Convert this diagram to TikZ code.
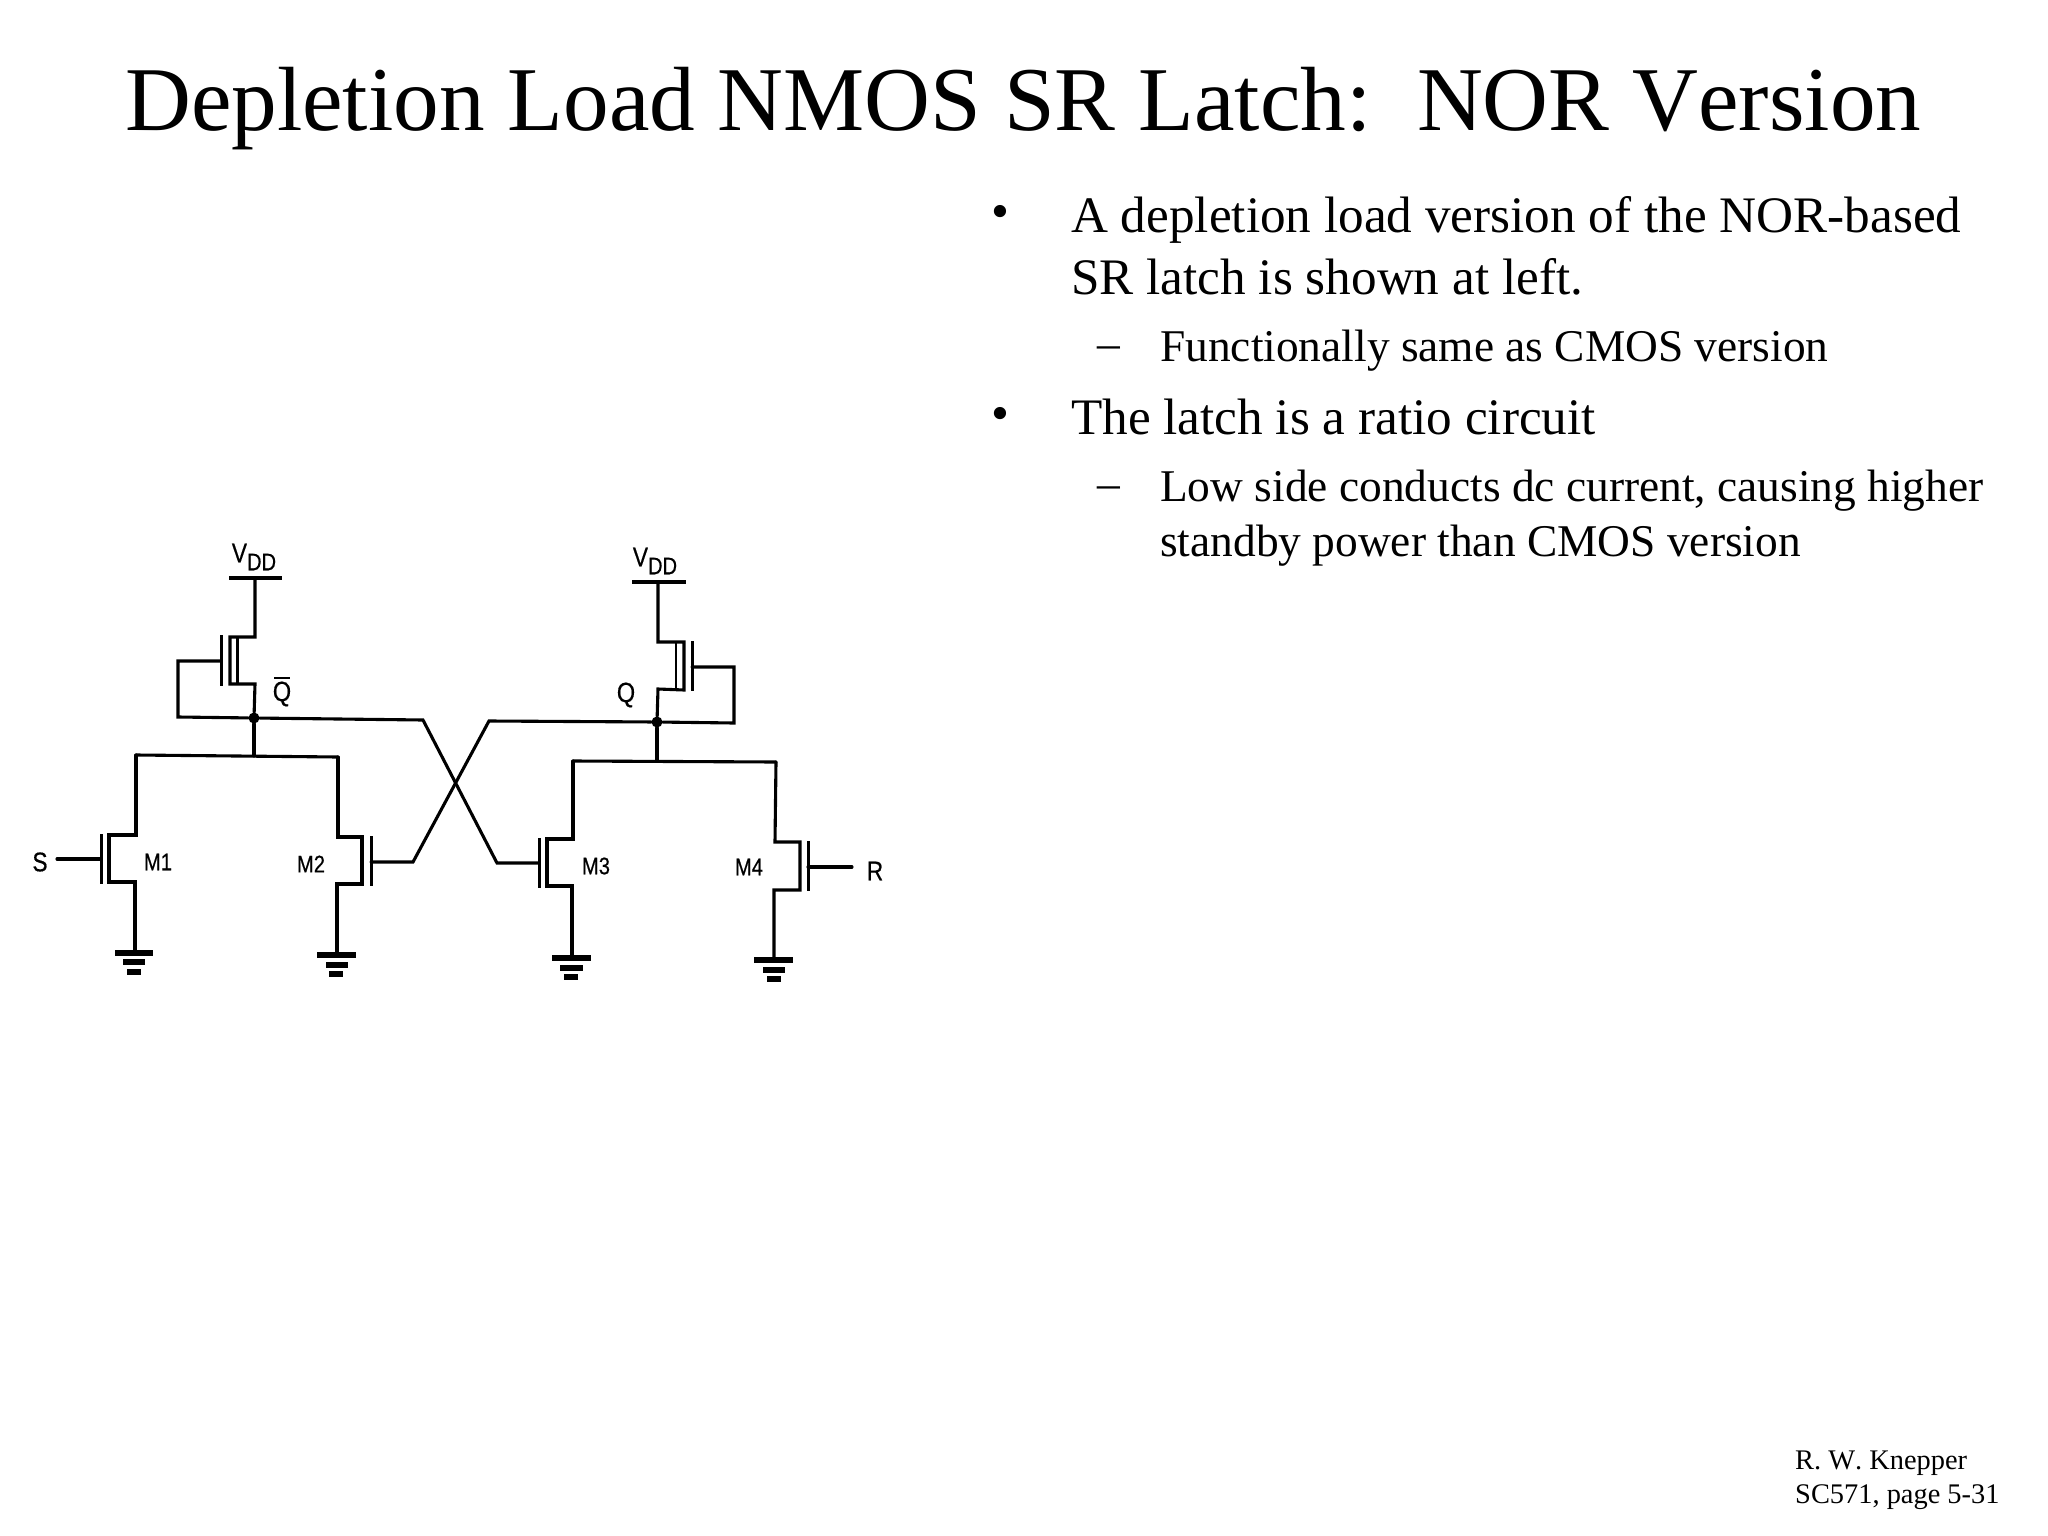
\documentclass[tikz,border=0pt]{standalone}
\usepackage{fontspec}
\usepackage{graphicx}
\setmainfont[Kerning=Off]{Liberation Serif}
\newfontfamily\schem[FakeBold=0.5]{Liberation Sans}
\newcommand{\fsz}[1]{\fontsize{#1}{#1}\selectfont}
\newcommand{\slab}[2]{{\schem\fsz{#1}\scalebox{.84}[1]{#2}}}
\tikzset{
  wire/.style={line width=3.1pt,line join=miter,line cap=round},
  chan/.style={line width=2.4pt},
  gatebar/.style={line width=3pt},
  rail/.style={line width=3.6pt},
  gnd/.style={line width=5.5pt},
  junct/.style={circle,fill=black,inner sep=0pt,minimum size=11pt},
  ttl/.style={anchor=base west,inner sep=0pt,font=\fsz{91.2}},
  lvone/.style={anchor=base west,inner sep=0pt,font=\fsz{51.2}},
  lvtwo/.style={anchor=base west,inner sep=0pt,font=\fsz{45.4}},
  foot/.style={anchor=base west,inner sep=0pt,font=\fsz{28.4}},
  lab/.style={inner sep=0pt}
}
\begin{document}
\begin{tikzpicture}[x=1pt,y=-1pt]
\useasboundingbox[fill=white] (0,0) rectangle (2048,1536);
% texts
\node[ttl] (title) at (125,131) {Depletion Load NMOS SR Latch:\ \ NOR Version};
\node[lvone] (b1) at (991,228) {•};
\node[lvone] (t1) at (1071,232) {A depletion load version of the NOR-based};
\node[lvone] (t1b) at (1071,294) {SR latch is shown at left.};
\node[lvtwo] (d1) at (1097,358) {–};
\node[lvtwo] (t2) at (1160,361) {Functionally same as CMOS version};
\node[lvone] (b2) at (991,430) {•};
\node[lvone] (t3) at (1071,434) {The latch is a ratio circuit};
\node[lvtwo] (d2) at (1097,498) {–};
\node[lvtwo] (t4) at (1160,501) {Low side conducts dc current, causing higher};
\node[lvtwo] (t4b) at (1160,556) {standby power than CMOS version};
\node[foot] (f1) at (1795,1469) {R. W. Knepper};
\node[foot] (f2) at (1795,1503) {SC571, page 5-31};
% junctions
\node[junct] (nqb) at (254,718) {};
\node[junct] (nq) at (657,722) {};
% left load
\coordinate (vl) at (255,578);
\coordinate (vla) at (229,578); \coordinate (vlb) at (282,578);
\draw[rail] (vla) -- (vlb);
\coordinate (ld) at (255,637); \coordinate (lch) at (230,637);
\coordinate (lchb) at (230,684); \coordinate (ls) at (255,684);
\draw[wire] (vl) -- (ld) -- (lch) -- (lchb) -- (ls) -- (nqb);
\draw[chan] (237.5,637) -- (237.5,684);
\draw[gatebar] (221,635) -- (221,686);
\coordinate (lg) at (221,661); \coordinate (lfa) at (178,661); \coordinate (lfb) at (178,717);
\draw[wire] (lg) -- (lfa) -- (lfb) -- (nqb);
% right load
\coordinate (vr) at (658,582);
\coordinate (vra) at (632,582); \coordinate (vrb) at (686,582);
\draw[rail] (vra) -- (vrb);
\coordinate (rd) at (658,642); \coordinate (rch) at (684,642);
\coordinate (rchb) at (684,690); \coordinate (rs) at (658,689);
\draw[wire] (vr) -- (rd) -- (rch) -- (rchb) -- (rs) -- (nq);
\draw[chan] (676,642) -- (676,690);
\draw[gatebar] (692,641) -- (692,691);
\coordinate (rg) at (692,667); \coordinate (rfa) at (734,667); \coordinate (rfb) at (734,723);
\draw[wire] (rg) -- (rfa) -- (rfb) -- (nq);
% cross coupling
\coordinate (m2g) at (371,862); \coordinate (m3g) at (539,863);
\coordinate (xa) at (423,720); \coordinate (xb) at (497,863);
\coordinate (xc) at (489,721); \coordinate (xd) at (413,862);
\draw[wire] (nqb) -- (xa) -- (xb) -- (m3g);
\draw[wire] (nq) -- (xc) -- (xd) -- (m2g);
% left pull-down rail
\coordinate (tl) at (254,756); \coordinate (tla) at (136,755); \coordinate (tlb) at (338,757);
\draw[wire] (nqb) -- (tl);
\draw[wire] (tla) -- (tlb);
% M1
\coordinate (m1s) at (109,835); \coordinate (m1t) at (136,835);
\coordinate (m1b) at (109,882); \coordinate (m1c) at (135,882);
\coordinate (g1) at (135,952);
\draw[wire] (tla) -- (m1t) -- (m1s) -- (m1b) -- (m1c) -- (g1);
\draw[gatebar] (101,834) -- (101,884);
\coordinate (m1g) at (101,859); \coordinate (sin) at (57,859);
\draw[wire] (m1g) -- (sin);
\draw[gnd] (115,953) -- (153,953);
\draw[gnd] (123,962) -- (145,962);
\draw[gnd] (127,972) -- (141,972);
% M2
\coordinate (m2t) at (338,837); \coordinate (m2s) at (362,837);
\coordinate (m2b) at (362,884); \coordinate (m2c) at (337,884);
\coordinate (g2) at (337,954);
\draw[wire] (tlb) -- (m2t) -- (m2s) -- (m2b) -- (m2c) -- (g2);
\draw[gatebar] (371,836) -- (371,886);
\draw[gnd] (317,955) -- (356,955);
\draw[gnd] (326,965) -- (348,965);
\draw[gnd] (329,974) -- (343,974);
% right pull-down rail
\coordinate (tr) at (657,761); \coordinate (tra) at (573,761); \coordinate (trb) at (776,762);
\draw[wire] (nq) -- (tr);
\draw[wire] (tra) -- (trb);
% M3
\coordinate (m3t) at (573,839); \coordinate (m3s) at (547,839);
\coordinate (m3b) at (547,886); \coordinate (m3c) at (572,886);
\coordinate (g3) at (572,957);
\draw[wire] (tra) -- (m3t) -- (m3s) -- (m3b) -- (m3c) -- (g3);
\draw[gatebar] (539,838) -- (539,888);
\draw[gnd] (552,958) -- (591,958);
\draw[gnd] (560,968) -- (583,968);
\draw[gnd] (564,977) -- (578,977);
% M4
\coordinate (m4t) at (775,842); \coordinate (m4s) at (800,842);
\coordinate (m4b) at (800,890); \coordinate (m4c) at (774,890);
\coordinate (g4) at (774,959);
\draw[wire] (trb) -- (m4t) -- (m4s) -- (m4b) -- (m4c) -- (g4);
\draw[gatebar] (808,841) -- (808,891);
\coordinate (m4g) at (808,867); \coordinate (rin) at (852,867);
\draw[wire] (m4g) -- (rin);
\draw[gnd] (754,960) -- (793,960);
\draw[gnd] (763,970) -- (785,970);
\draw[gnd] (767,979) -- (781,979);
% labels
\node[lab] (vddl) at (254,557) {\slab{27}{V}\raisebox{-8pt}{\slab{24}{DD}}};
\node[lab] (vddr) at (655,561) {\slab{27}{V}\raisebox{-8pt}{\slab{24}{DD}}};
\node[lab] (qb) at (282,694) {\slab{28}{Q}};
\draw[line width=2pt] (274,678) -- (290,678);
\node[lab] (q) at (626,695) {\slab{28}{Q}};
\node[lab] (s) at (40,862) {\slab{27}{S}};
\node[lab] (r) at (875,871) {\slab{27}{R}};
\node[lab] (m1) at (158,862) {\slab{24}{M1}};
\node[lab] (m2) at (311,864) {\slab{24}{M2}};
\node[lab] (m3) at (596,866) {\slab{24}{M3}};
\node[lab] (m4) at (749,867) {\slab{24}{M4}};
\end{tikzpicture}
\end{document}
